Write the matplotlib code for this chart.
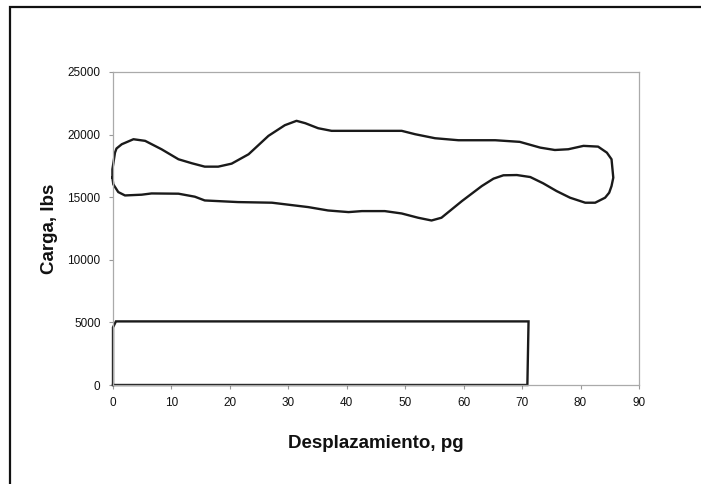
import matplotlib
matplotlib.use("Agg")
import matplotlib.pyplot as plt
from matplotlib.patches import Rectangle

# Loop (dynamometer card), going round clockwise
loop_x = [-0.1, -0.1, 0.34, 0.6, 1.5, 3.5, 5.5, 8.3, 11.2, 13.5, 15.7, 18.0, 20.3, 23.2, 26.6,
          29.4, 31.4, 32.9, 35.1, 37.4, 42.6, 49.4, 51.7, 55.1, 59.1, 65.4, 69.6,
          73.1, 75.6, 77.9, 80.5, 83.0, 84.5, 85.3, 85.6, 85.3, 84.9, 84.2, 82.5, 80.8, 78.2,
          75.9, 73.6, 71.4, 69.1, 66.8, 65.1, 63.1, 59.7, 56.2, 54.5, 52.2, 49.4,
          46.5, 42.6, 40.3, 36.8, 33.4, 31.1, 27.2, 21.4, 15.7, 14.0, 11.2, 6.6,
          4.9, 2.05, 0.9, 0.05, -0.1]
loop_y = [16560, 17230, 18560, 18890, 19230, 19630, 19500, 18830, 18030, 17710, 17440, 17440,
          17680, 18430, 19900, 20750, 21100, 20910, 20510, 20300, 20300, 20300,
          20030, 19710, 19550, 19550, 19420, 18960, 18770, 18830, 19100, 19040,
          18560, 18030, 16560, 15890, 15360, 14960, 14560, 14560, 14960, 15490, 16110, 16610,
          16770, 16750, 16480, 15890, 14690, 13360, 13140, 13360, 13700, 13890,
          13890, 13810, 13940, 14210, 14340, 14560, 14610, 14740, 15040, 15280,
          15300, 15200, 15140, 15410, 16030, 16560]

# Rectangle-shaped card
rect_x = [0.0, 0.0, 0.5, 71.1, 70.9, 0.0]
rect_y = [0, 4600, 5080, 5080, 0, 0]

x_ticks = [0, 10, 20, 30, 40, 50, 60, 70, 80, 90]
y_ticks = [0, 5000, 10000, 15000, 20000, 25000]

plt.rcParams['font.family'] = ['Liberation Sans', 'DejaVu Sans']

fig = plt.figure(figsize=(7.01, 4.84), dpi=100)
ax = fig.add_axes([113/701, 1-385/484, (639-113)/701, (385-72)/484])

ax.plot(loop_x, loop_y, color='#1a1a1a', lw=1.7, solid_joinstyle='round', clip_on=False)
ax.plot(rect_x, rect_y, color='#1a1a1a', lw=1.7, solid_joinstyle='miter', clip_on=False)

ax.set_xlim(0, 90)
ax.set_ylim(0, 25000)
ax.set_xticks(x_ticks)
ax.set_yticks(y_ticks)
ax.tick_params(axis='both', direction='out', length=3, width=0.8, color='#999999',
               labelsize=8.5, labelcolor='#111111', pad=6)
for s in ax.spines.values():
    s.set_color('#aaaaaa')
    s.set_linewidth(0.9)

ax.set_xlabel('Desplazamiento, pg', fontsize=13.5, fontweight='bold', color='#111111')
ax.set_ylabel('Carga, lbs', fontsize=13.5, fontweight='bold', color='#111111')
ax.xaxis.set_label_coords(0.5, -0.16)
ax.yaxis.set_label_coords(-0.105, 0.5)

# outer frame of the picture
fig.patches.append(Rectangle((10/701, -0.05), 1.1, 1-7/484+0.05, transform=fig.transFigure,
                             fill=False, edgecolor='#111111', lw=1.6))

fig.savefig('out.png', dpi=100)
